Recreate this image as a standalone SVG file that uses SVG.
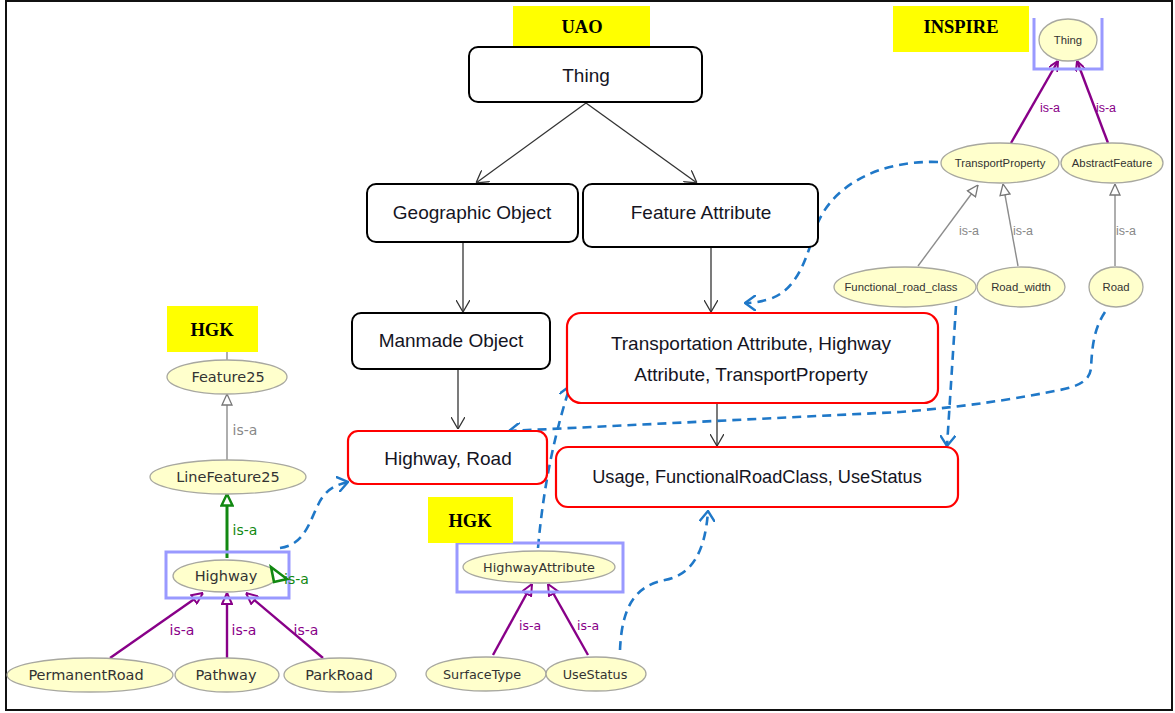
<svg xmlns="http://www.w3.org/2000/svg" width="1175" height="713" viewBox="0 0 1175 713">
  <style>
    .tag { fill: #ffff00; }
    .tagtxt { font-family: "Liberation Serif", serif; font-weight: bold; font-size: 18.5px; fill: #000; text-anchor: middle; }
    .box { fill: #fff; stroke: #000; stroke-width: 2; }
    .rbox { fill: #fff; stroke: #ff0000; stroke-width: 2.2; }
    .btxt { font-family: "Liberation Sans", Arial, sans-serif; font-size: 19px; fill: #15151f; text-anchor: middle; }
    .ell { fill: #ffffcc; stroke: #a8a8a0; stroke-width: 1.3; }
    .etxt { font-family: "DejaVu Sans", sans-serif; font-size: 14.5px; fill: #333; text-anchor: middle; }
    .etxm { font-family: "DejaVu Sans", sans-serif; font-size: 12.8px; fill: #333; text-anchor: middle; }
    .etxs { font-family: "Liberation Sans", Arial, sans-serif; font-size: 11.3px; fill: #333; text-anchor: middle; }
    .sel { fill: none; stroke: #9999ff; stroke-width: 3; }
    .uao { fill: none; stroke: #333; stroke-width: 1.3; marker-end: url(#vBlack); }
    .dash { fill: none; stroke: #1f78c8; stroke-width: 2.6; stroke-dasharray: 9 6; marker-end: url(#vBlue); }
    .grey { fill: none; stroke: #8c8c8c; stroke-width: 1.4; marker-end: url(#triGrey); }
    .purple { fill: none; stroke: #880088; stroke-width: 2.4; marker-end: url(#triPurple); }
    .purpleV { fill: none; stroke: #880088; stroke-width: 2.4; marker-end: url(#vPurple); }
    .green { fill: none; stroke: #118811; stroke-width: 3; marker-end: url(#triGreen); }
    .isa { font-family: "Liberation Sans", Arial, sans-serif; font-size: 12.5px; }
    .isaL { font-family: "DejaVu Sans", sans-serif; font-size: 14px; }
    .isaM { font-family: "DejaVu Sans", sans-serif; font-size: 12.5px; }
  </style>
  <defs>
    <marker id="vBlack" viewBox="0 0 12 14" refX="12" refY="7" markerWidth="12" markerHeight="14" markerUnits="userSpaceOnUse" orient="auto">
      <path d="M0,0 L12,7 L0,14" fill="none" stroke="#333" stroke-width="1.3"/>
    </marker>
    <marker id="vBlue" viewBox="0 0 12 16" refX="11" refY="8" markerWidth="12" markerHeight="16" markerUnits="userSpaceOnUse" orient="auto">
      <path d="M0,0 L11,8 L0,16" fill="none" stroke="#1f78c8" stroke-width="2.4"/>
    </marker>
    <marker id="vPurple" viewBox="0 0 10 10" refX="10" refY="5" markerWidth="10" markerHeight="10" markerUnits="userSpaceOnUse" orient="auto">
      <path d="M0,0 L10,5 L0,10" fill="none" stroke="#880088" stroke-width="2"/>
    </marker>
    <marker id="triGrey" viewBox="0 0 12 12" refX="12" refY="6" markerWidth="12" markerHeight="12" markerUnits="userSpaceOnUse" orient="auto">
      <path d="M1,1 L12,6 L1,11 Z" fill="#fff" stroke="#777" stroke-width="1.3"/>
    </marker>
    <marker id="triPurple" viewBox="0 0 12 12" refX="12" refY="6" markerWidth="12" markerHeight="12" markerUnits="userSpaceOnUse" orient="auto">
      <path d="M1,1 L12,6 L1,11 Z" fill="#fff" stroke="#880088" stroke-width="2"/>
    </marker>
    <marker id="triGreen" viewBox="0 0 14 14" refX="14" refY="7" markerWidth="14" markerHeight="14" markerUnits="userSpaceOnUse" orient="auto">
      <path d="M1.5,1.5 L13,7 L1.5,12.5 Z" fill="#fff" stroke="#118811" stroke-width="2.4"/>
    </marker>
  </defs>

  <rect x="0" y="0" width="1175" height="713" fill="#fff"/>
  <!-- outer frame -->
  <rect x="6" y="1" width="1166" height="709" fill="none" stroke="#111" stroke-width="2"/>

  <!-- connectors -->
  <g id="connectors">
    <!-- UAO hierarchy -->
    <path class="uao" d="M586,103 L476,183"/>
    <path class="uao" d="M586,103 L697,183"/>
    <path class="uao" d="M463,243 L463,312"/>
    <path class="uao" d="M711,247 L711,312"/>
    <path class="uao" d="M458,369 L458,429"/>
    <path class="uao" d="M717,403 L717,446"/>

    <!-- mappings -->
    <path class="dash" d="M938,162 C880,160 830,185 815,230 C805,265 795,290 770,299 C760,302 752,303 745,303"/>
    <path class="dash" d="M956,306 L947,446"/>
    <path class="dash" d="M1105,312 C1093,330 1092,350 1091,368 C1090,380 1080,386 1060,390 C1000,402 950,408 900,412 L509,431"/>
    <path class="dash" d="M538,548 C544,480 556,430 570,386"/>
    <path class="dash" d="M620,650 C622,600 640,585 665,580 C690,575 705,555 708,511"/>
    <path class="dash" d="M280,548 C305,545 310,520 318,505 C325,490 335,485 348,482"/>

    <!-- INSPIRE -->
    <path class="purpleV" d="M1011,143 L1058,61"/>
    <path class="purpleV" d="M1108,143 L1077,61"/>
    <text class="isa" x="1050" y="112" fill="#880088" text-anchor="middle">is-a</text>
    <text class="isa" x="1106" y="112" fill="#880088" text-anchor="middle">is-a</text>
    <path class="grey" d="M918,266 L978,185"/>
    <path class="grey" d="M1018,266 L1003,184"/>
    <path class="grey" d="M1115,266 L1115,184"/>
    <text class="isa" x="969" y="235" fill="#888" text-anchor="middle">is-a</text>
    <text class="isa" x="1023" y="235" fill="#888" text-anchor="middle">is-a</text>
    <text class="isa" x="1126" y="235" fill="#888" text-anchor="middle">is-a</text>

    <!-- HGK (left) -->
    <path d="M227,352 L227,360" stroke="#8c8c8c" stroke-width="1.4"/>
    <path class="grey" d="M227,460 L227,394"/>
    <text class="isaL" x="245" y="435" fill="#888" text-anchor="middle">is-a</text>
    <path class="green" d="M227,558 L227,493"/>
    <text class="isaL" x="245" y="535" fill="#118811" text-anchor="middle">is-a</text>
    <path class="purple" d="M110,658 L203,593"/>
    <path class="purple" d="M227,658 L227,593"/>
    <path class="purple" d="M323,658 L246,593"/>
    <text class="isaL" x="182" y="635" fill="#880088" text-anchor="middle">is-a</text>
    <text class="isaL" x="244" y="635" fill="#880088" text-anchor="middle">is-a</text>
    <text class="isaL" x="306" y="635" fill="#880088" text-anchor="middle">is-a</text>

    <!-- HGK (middle) -->
    <path class="purple" d="M493,655 L532,584"/>
    <path class="purple" d="M588,655 L548,584"/>
    <text class="isaM" x="530" y="630" fill="#880088" text-anchor="middle">is-a</text>
    <text class="isaM" x="588" y="630" fill="#880088" text-anchor="middle">is-a</text>
  </g>

  <!-- UAO -->
  <g id="label-uao">
    <rect class="tag" x="513" y="6" width="137" height="40"/>
    <text class="tagtxt" x="582" y="33">UAO</text>
  </g>
  <g id="uao-thing">
    <rect class="box" x="469" y="47" width="233" height="55" rx="9"/>
    <text class="btxt" x="586" y="82">Thing</text>
  </g>
  <g id="geographic-object">
    <rect class="box" x="367" y="184" width="211" height="58" rx="9"/>
    <text class="btxt" x="472" y="219">Geographic Object</text>
  </g>
  <g id="feature-attribute">
    <rect class="box" x="583" y="184" width="235" height="63" rx="9"/>
    <text class="btxt" x="701" y="219">Feature Attribute</text>
  </g>
  <g id="manmade-object">
    <rect class="box" x="352" y="313" width="198" height="56" rx="9"/>
    <text class="btxt" x="451" y="347">Manmade Object</text>
  </g>
  <g id="transportation-attribute">
    <rect class="rbox" x="567" y="313" width="371" height="90" rx="14"/>
    <text class="btxt" x="751" y="350">Transportation Attribute, Highway</text>
    <text class="btxt" x="751" y="381">Attribute, TransportProperty</text>
  </g>
  <g id="highway-road">
    <rect class="rbox" x="348" y="431" width="199" height="53" rx="10"/>
    <text class="btxt" x="448" y="465">Highway, Road</text>
  </g>
  <g id="usage">
    <rect class="rbox" x="556" y="447" width="402" height="60" rx="12"/>
    <text class="btxt" x="757" y="483" style="font-size:18.2px">Usage, FunctionalRoadClass, UseStatus</text>
  </g>

  <!-- INSPIRE -->
  <g id="label-inspire">
    <rect class="tag" x="893" y="6" width="136" height="46"/>
    <text class="tagtxt" x="961" y="33">INSPIRE</text>
  </g>
  <g id="inspire-thing">
    <ellipse class="ell" cx="1068" cy="40" rx="29" ry="21"/>
    <text class="etxs" x="1068" y="44">Thing</text>
    <path class="sel" d="M1034,18 L1034,69 L1102,69 L1102,18"/>
  </g>
  <g id="transport-property">
    <ellipse class="ell" cx="1000" cy="163" rx="59" ry="20"/>
    <text class="etxs" x="1000" y="167">TransportProperty</text>
  </g>
  <g id="abstract-feature">
    <ellipse class="ell" cx="1112" cy="163" rx="51" ry="20"/>
    <text class="etxs" x="1112" y="167">AbstractFeature</text>
  </g>
  <g id="functional-road-class">
    <ellipse class="ell" cx="905" cy="287" rx="71" ry="20"/>
    <text class="etxs" x="901" y="291">Functional_road_class</text>
  </g>
  <g id="road-width">
    <ellipse class="ell" cx="1021" cy="287" rx="44" ry="20"/>
    <text class="etxs" x="1021" y="291">Road_width</text>
  </g>
  <g id="inspire-road">
    <ellipse class="ell" cx="1116" cy="287" rx="27" ry="20"/>
    <text class="etxs" x="1116" y="291">Road</text>
  </g>

  <!-- HGK (left) -->
  <g id="label-hgk-left">
    <rect class="tag" x="167" y="306" width="91" height="46"/>
    <text class="tagtxt" x="212" y="336">HGK</text>
  </g>
  <g id="feature25">
    <ellipse class="ell" cx="227" cy="377" rx="60" ry="17"/>
    <text class="etxt" x="228" y="382">Feature25</text>
  </g>
  <g id="linefeature25">
    <ellipse class="ell" cx="228" cy="477" rx="78" ry="17"/>
    <text class="etxt" x="228" y="482">LineFeature25</text>
  </g>
  <g id="highway">
    <ellipse class="ell" cx="225" cy="576" rx="52" ry="16"/>
    <text class="etxt" x="226" y="581">Highway</text>
    <rect class="sel" x="166" y="552" width="123" height="46"/>
    <!-- self is-a loop -->
    <text class="isaL" x="284" y="584" fill="#118811">is-a</text>
    <path d="M271,567 L274,582 L287,579 Z" fill="#fff" stroke="#118811" stroke-width="2.6"/>
  </g>
  <g id="permanent-road">
    <ellipse class="ell" cx="90" cy="675" rx="83" ry="17"/>
    <text class="etxt" x="86" y="680">PermanentRoad</text>
  </g>
  <g id="pathway">
    <ellipse class="ell" cx="227" cy="675" rx="52" ry="17"/>
    <text class="etxt" x="226" y="680">Pathway</text>
  </g>
  <g id="park-road">
    <ellipse class="ell" cx="340" cy="675" rx="56" ry="17"/>
    <text class="etxt" x="339" y="680">ParkRoad</text>
  </g>

  <!-- HGK (middle) -->
  <g id="highway-attribute">
    <ellipse class="ell" cx="539" cy="567" rx="76" ry="16"/>
    <text class="etxm" x="539" y="572">HighwayAttribute</text>
    <rect class="sel" x="457" y="543" width="166" height="49"/>
  </g>
  <g id="label-hgk-middle">
    <rect class="tag" x="428" y="497" width="85" height="46"/>
    <text class="tagtxt" x="470" y="527">HGK</text>
  </g>
  <g id="surface-type">
    <ellipse class="ell" cx="486" cy="674" rx="60" ry="17"/>
    <text class="etxm" x="482" y="679">SurfaceType</text>
  </g>
  <g id="use-status">
    <ellipse class="ell" cx="596" cy="674" rx="50" ry="17"/>
    <text class="etxm" x="595" y="679">UseStatus</text>
  </g>
</svg>
